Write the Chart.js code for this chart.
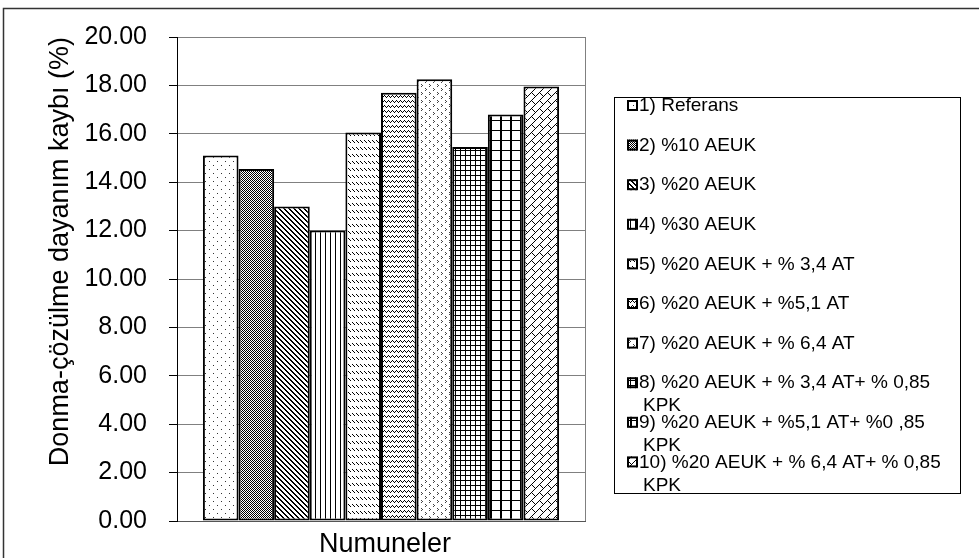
<!DOCTYPE html>
<html><head><meta charset="utf-8">
<script src="https://cdn.jsdelivr.net/npm/chart.js@4"></script>
<style>html,body{margin:0;padding:0;background:#fff}#wrap{width:979px;height:558px;position:relative}</style>
</head><body><div id="wrap"><canvas id="c"></canvas></div>
<script>
// veriler
const categories=['Numuneler'];
const seriesLabels=['1) Referans','2) %10 AEUK','3) %20 AEUK','4) %30 AEUK','5) %20 AEUK + % 3,4 AT','6) %20 AEUK + %5,1 AT','7) %20 AEUK + % 6,4 AT','8) %20 AEUK + % 3,4 AT+ % 0,85 KPK','9) %20 AEUK + %5,1 AT+ %0 ,85 KPK','10) %20 AEUK + % 6,4 AT+ % 0,85 KPK'];
const seriesValues=[15.1,14.55,13.0,12.0,16.05,17.7,18.25,15.45,16.8,17.95];
const yTicks=[0,2,4,6,8,10,12,14,16,18,20];
const yTitle='Donma-çözülme dayanım kaybı (%)';

const FONT='"Liberation Sans", Arial, sans-serif';

/* ---------- desenler (Excel tarzı tarama) ---------- */
function tile(w,h,px,col){
  const c=document.createElement('canvas');c.width=w;c.height=h;
  const g=c.getContext('2d');g.fillStyle='#fff';g.fillRect(0,0,w,h);
  g.fillStyle=col||'#000';px.forEach(p=>g.fillRect(p[0],p[1],p[2]||1,p[3]||1));
  return g.createPattern(c,'repeat');
}
const diag=[];for(let i=0;i<5;i++){diag.push([i,i]);diag.push([(i+1)%5,i]);}
const brick=[];for(let i=0;i<8;i++)brick.push([i,7-i]);brick.push([4,5],[5,6],[6,7]);
const patterns=[
  tile(8,8,[[1,1],[5,5]],'#333'),                         // noktalar
  tile(2,2,[[0,0],[1,1]],'#000'),                         // %50 gri
  tile(5,5,diag,'#000'),                                  // geniş çapraz
  tile(5,1,[[0,0]],'#000'),                               // dikey
  tile(4,7,[[0,0],[1,1],[2,2]],'#000'),                   // kesik çapraz
  tile(4,5,[[0,0],[1,1],[2,2],[3,1]],'#000'),             // zikzak
  tile(8,8,[[1,0],[2,1],[1,2],[5,4],[6,5],[5,6]],'#444'), // oyuk
  tile(5,5,[[0,0,5,1],[0,0,1,5]],'#000'),                 // küçük ızgara
  tile(10,10,[[0,0,10,1],[0,0,2,10]],'#000'),             // büyük ızgara
  tile(8,8,brick,'#000')                                  // çapraz tuğla
];

/* ---------- çerçeve, eksen başlığı ve lejant ---------- */
function wrapText(ctx,txt,maxW){
  const words=txt.split(' ');const out=[];let cur='';
  words.forEach(w=>{const t=cur?cur+' '+w:w;if(ctx.measureText(t).width>maxW&&cur){out.push(cur);cur=w;}else cur=t;});
  if(cur)out.push(cur);return out;
}
const decor={
  id:'decor',
  beforeDraw(chart){
    const ctx=chart.ctx;ctx.save();
    ctx.fillStyle='#fff';ctx.fillRect(0,0,chart.width,chart.height);
    ctx.strokeStyle='#333';ctx.lineWidth=1.5;ctx.strokeRect(3.5,8.5,1000,600);
    ctx.restore();
  },
  afterDraw(chart){
    const ctx=chart.ctx,a=chart.chartArea;ctx.save();
    // sağ çerçeve
    ctx.strokeStyle='#808080';ctx.lineWidth=1;
    ctx.beginPath();ctx.moveTo(Math.round(a.right)+0.5,a.top);ctx.lineTo(Math.round(a.right)+0.5,a.bottom);ctx.stroke();
    // x ekseni başlığı
    ctx.fillStyle='#000';ctx.font='27px '+FONT;ctx.textAlign='center';ctx.textBaseline='alphabetic';
    ctx.fillText(categories[0],(a.left+a.right)/2+4,552);
    // lejant
    const L={x:614,y:97,w:346,h:396};
    ctx.strokeStyle='#000';ctx.lineWidth=1;ctx.strokeRect(L.x+0.5,L.y+0.5,L.w,L.h);
    ctx.font='19px '+FONT;ctx.textAlign='left';ctx.textBaseline='middle';
    chart.data.datasets.forEach((ds,i)=>{
      const cy=106+39.6*i;
      ctx.fillStyle=ds.backgroundColor;ctx.fillRect(627,cy-6,11,11);
      ctx.strokeStyle='#000';ctx.lineWidth=2;ctx.strokeRect(628,cy-5,9,9);
      ctx.fillStyle='#000';
      wrapText(ctx,ds.label,312).forEach((ln,j)=>ctx.fillText(ln,j?643:639,cy+j*23));
    });
    ctx.restore();
  }
};

new Chart(document.getElementById('c'),{
  type:'bar',
  data:{
    labels:[''],
    datasets:seriesLabels.map((lb,i)=>({label:lb,data:[seriesValues[i]],backgroundColor:patterns[i],borderColor:'#000',borderWidth:2,borderSkipped:false}))
  },
  options:{
    responsive:true,maintainAspectRatio:false,animation:false,
    categoryPercentage:0.873,barPercentage:1,
    layout:{padding:{left:0,right:394,top:32,bottom:34}},
    plugins:{legend:{display:false},tooltip:{enabled:false}},
    scales:{
      x:{grid:{display:false,drawTicks:false},border:{color:'#555',width:1},ticks:{display:false}},
      y:{min:0,max:20,afterBuildTicks:s=>{s.ticks=yTicks.map(v=>({value:v}));},
        afterFit:s=>{s.width=177;},
        grid:{color:'#808080',lineWidth:1,tickLength:8,tickColor:'#000'},
        border:{color:'#000',width:1},
        ticks:{color:'#000',padding:22,font:{family:FONT,size:25},callback:v=>Number(v).toFixed(2)},
        title:{display:true,text:yTitle,align:'end',color:'#000',font:{family:FONT,size:27},padding:{top:44,bottom:4}}}
    }
  },
  plugins:[decor]
});
</script>
</body></html>
